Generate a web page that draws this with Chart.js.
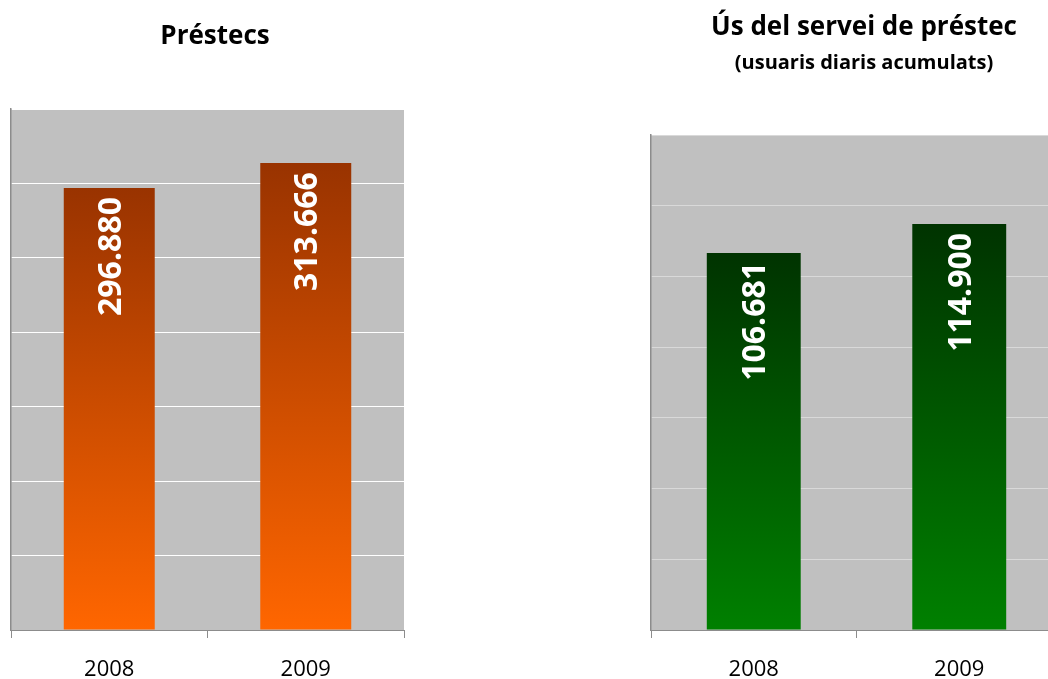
<!DOCTYPE html>
<html>
<head>
<meta charset="utf-8">
<script src="https://cdn.jsdelivr.net/npm/chart.js@4/dist/chart.umd.min.js"></script>
<style>
  html, body { margin: 0; padding: 0; background: #fff; overflow: hidden; }
  body { width: 1048px; height: 679px; position: relative; }
  .box { position: absolute; top: 0; height: 679px; }
  #leftBox { left: 0; width: 430px; }
  #rightBox { left: 640px; width: 448px; }
</style>
</head>
<body>
<div class="box" id="leftBox"><canvas id="loans"></canvas></div>
<div class="box" id="rightBox"><canvas id="usage"></canvas></div>
<script>
// data
const years = ["2008", "2009"];
const loansValues = [296880, 313666];
const usageValues = [106681, 114900];
// hidden value axes (gridline steps)
const loansMax = 350000, loansStep = 50000;
const usageMax = 140000, usageStep = 20000;

Chart.defaults.font.family = "'Open Sans', sans-serif";
Chart.defaults.color = "#000";

// grey plot area
const plotBg = {
  id: "plotBg",
  beforeDraw(chart) {
    const a = chart.chartArea;
    chart.ctx.save();
    chart.ctx.fillStyle = "#c0c0c0";
    chart.ctx.fillRect(a.left, a.top, a.right - a.left, a.bottom - a.top);
    chart.ctx.restore();
  }
};

// white rotated numbers inside the bars
const valueLabels = {
  id: "valueLabels",
  afterDatasetsDraw(chart) {
    const ctx = chart.ctx;
    const meta = chart.getDatasetMeta(0);
    const vals = chart.data.datasets[0].data;
    ctx.save();
    ctx.fillStyle = "#fff";
    ctx.font = "bold 32px 'Open Sans', sans-serif";
    ctx.textAlign = "right";
    ctx.textBaseline = "alphabetic";
    meta.data.forEach(function (bar, i) {
      const txt = String(vals[i]).replace(/\B(?=(\d{3})+(?!\d))/g, ".");
      ctx.save();
      ctx.translate(bar.x + 11.5, bar.y + 9);
      ctx.rotate(-Math.PI / 2);
      ctx.fillText(txt, 0, 0);
      ctx.restore();
    });
    ctx.restore();
  }
};

function barGradient(topColor, bottomColor) {
  return function (context) {
    const chart = context.chart;
    if (!chart.chartArea || context.type !== "data") return bottomColor;
    const y = chart.scales.y;
    const y0 = y.getPixelForValue(context.raw);
    const y1 = y.getPixelForValue(0);
    const g = chart.ctx.createLinearGradient(0, y0, 0, y1);
    g.addColorStop(0, topColor);
    g.addColorStop(1, bottomColor);
    return g;
  };
}

function makeChart(id, values, max, step, colors, gridColor, barPct, title, subtitle, titlePad) {
  return new Chart(document.getElementById(id), {
    type: "bar",
    data: {
      labels: years,
      datasets: [{
        data: values,
        backgroundColor: barGradient(colors[0], colors[1]),
        borderWidth: 0,
        barPercentage: barPct,
        categoryPercentage: 1
      }]
    },
    options: {
      responsive: true,
      maintainAspectRatio: false,
      animation: false,
      events: [],
      layout: { padding: 0 },
      plugins: {
        legend: { display: false },
        tooltip: { enabled: false },
        title: {
          display: true,
          text: title,
          font: { size: 26, weight: "bold", lineHeight: 1.2 },
          color: "#000",
          padding: titlePad.title
        },
        subtitle: {
          display: !!subtitle,
          text: subtitle || "",
          font: { size: 20, weight: "bold", lineHeight: 1.2 },
          color: "#000",
          padding: titlePad.sub
        }
      },
      scales: {
        x: {
          grid: {
            drawOnChartArea: false,
            drawTicks: true,
            tickLength: 8,
            color: "#8c8c8c"
          },
          border: { display: true, color: "#8c8c8c", width: 1 },
          ticks: { font: { size: 22, lineHeight: 1 }, padding: 20.5, color: "#000" },
          afterFit(axis) { axis.height = 49; }
        },
        y: {
          min: 0,
          max: max,
          ticks: { display: false, stepSize: step },
          grid: { color: gridColor, lineWidth: 1, drawTicks: false, tickLength: 0 },
          border: { display: true, color: "#8c8c8c", width: 1.5 },
          afterFit(axis) { axis.width = 11; }
        },
        // empty spacer on the right so the titles centre on the whole canvas
        spacer: {
          type: "linear",
          position: "right",
          display: true,
          ticks: { display: false },
          grid: { display: false, drawTicks: false },
          border: { display: false },
          afterFit(axis) { axis.width = 26; }
        }
      }
    },
    plugins: [plotBg, valueLabels]
  });
}

makeChart("loans", loansValues, loansMax, loansStep, ["#993300", "#ff6600"], "#ffffff", 0.463,
  "Préstecs", null,
  { title: { top: 21.4, bottom: 56.4 }, sub: 0 });

makeChart("usage", usageValues, usageMax, usageStep, ["#003300", "#008000"], "#d9d9d9", 0.457,
  "Ús del servei de préstec", "(usuaris diaris acumulats)",
  { title: { top: 11.6, bottom: 8.5 }, sub: { top: 0, bottom: 59.9 } });
</script>
</body>
</html>
